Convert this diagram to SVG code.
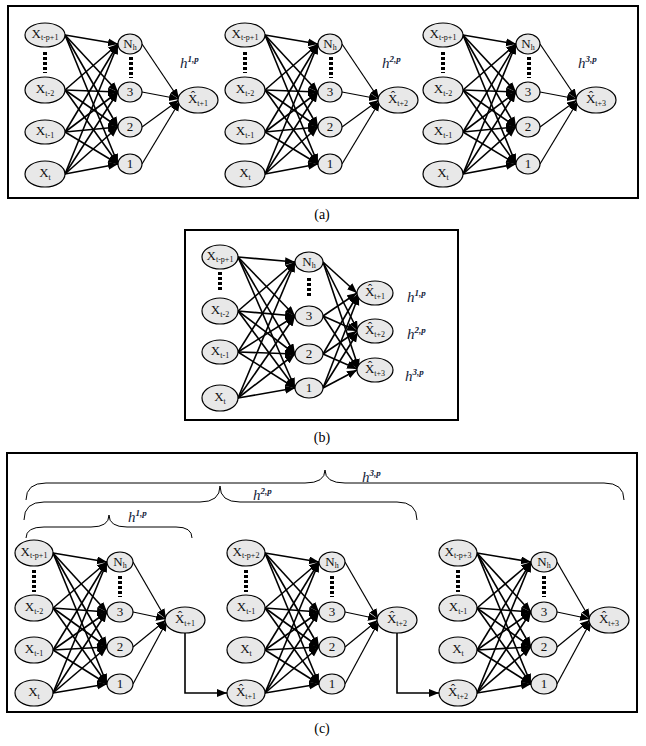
<svg xmlns="http://www.w3.org/2000/svg" xmlns:xlink="http://www.w3.org/1999/xlink" width="646" height="746" viewBox="0 0 646 746">
<style>
.bx{fill:none;stroke:#000;stroke-width:2}
.n{fill:#e8e8e8;stroke:#000;stroke-width:1.2}
.c line,.c path{stroke:#000;stroke-width:1.6;fill:none;marker-end:url(#ar)}
.h line{stroke:#000;stroke-width:1.2;marker-end:url(#ar)}
.t{font-family:"Liberation Serif",serif;font-size:13px;text-anchor:middle;fill:#111}
.s{font-size:8px}
.d{stroke:#000;stroke-width:4;stroke-dasharray:3,2}
.hl{font-family:"Liberation Serif",serif;font-size:15px;font-style:italic;fill:#14233a}
.hs{font-size:9px;font-weight:bold}
.br{fill:none;stroke:#000;stroke-width:1}
.cap{font-family:"Liberation Serif",serif;font-size:14px;text-anchor:middle}
</style>
<defs>
<marker id="ar" markerUnits="userSpaceOnUse" markerWidth="11" markerHeight="9" refX="10" refY="4" orient="auto"><path d="M0,0 L10,4 L0,8 z" fill="#000"/></marker>
<g id="netA">
<g class="c">
<line x1="65" y1="35" x2="118" y2="44"/><line x1="65" y1="35" x2="118" y2="92"/><line x1="65" y1="35" x2="118" y2="127"/><line x1="65" y1="35" x2="118" y2="164"/>
<line x1="65" y1="90" x2="118" y2="44"/><line x1="65" y1="90" x2="118" y2="92"/><line x1="65" y1="90" x2="118" y2="127"/><line x1="65" y1="90" x2="118" y2="164"/>
<line x1="65" y1="132" x2="118" y2="44"/><line x1="65" y1="132" x2="118" y2="92"/><line x1="65" y1="132" x2="118" y2="127"/><line x1="65" y1="132" x2="118" y2="164"/>
<line x1="65" y1="174" x2="118" y2="44"/><line x1="65" y1="174" x2="118" y2="92"/><line x1="65" y1="174" x2="118" y2="127"/><line x1="65" y1="174" x2="118" y2="164"/>
</g>
<g class="h">
<line x1="142" y1="44" x2="179" y2="99"/><line x1="142" y1="92" x2="179" y2="99"/><line x1="142" y1="127" x2="179" y2="100"/><line x1="142" y1="164" x2="180" y2="101"/>
</g>
<line class="d" x1="45" y1="52" x2="45" y2="73"/><line class="d" x1="131" y1="57" x2="131" y2="78"/>
<ellipse class="n" cx="45" cy="35" rx="20" ry="12"/><ellipse class="n" cx="45" cy="90" rx="20" ry="13"/><ellipse class="n" cx="45" cy="132" rx="20" ry="12"/><ellipse class="n" cx="45" cy="174" rx="20" ry="13"/>
<ellipse class="n" cx="130" cy="44" rx="12" ry="10"/><ellipse class="n" cx="130" cy="92" rx="12" ry="10"/><ellipse class="n" cx="130" cy="127" rx="12" ry="10"/><ellipse class="n" cx="130" cy="164" rx="12" ry="10"/>
<ellipse class="n" cx="198" cy="100" rx="20" ry="13"/>
<text class="t" x="45" y="38">X<tspan class="s" dy="2">t-p+1</tspan></text>
<text class="t" x="45" y="93">X<tspan class="s" dy="3">t-2</tspan></text>
<text class="t" x="45" y="135">X<tspan class="s" dy="3">t-1</tspan></text>
<text class="t" x="45" y="177">X<tspan class="s" dy="3">t</tspan></text>
<text class="t" x="130" y="48">N<tspan class="s" dy="2">h</tspan></text>
<text class="t" x="130" y="96">3</text><text class="t" x="130" y="131">2</text><text class="t" x="130" y="168">1</text>
</g>
<g id="netC">
<g class="c">
<line x1="53" y1="553" x2="107" y2="562"/><line x1="53" y1="553" x2="107" y2="612"/><line x1="53" y1="553" x2="107" y2="647"/><line x1="53" y1="553" x2="107" y2="684"/>
<line x1="53" y1="608" x2="107" y2="562"/><line x1="53" y1="608" x2="107" y2="612"/><line x1="53" y1="608" x2="107" y2="647"/><line x1="53" y1="608" x2="107" y2="684"/>
<line x1="53" y1="650" x2="107" y2="562"/><line x1="53" y1="650" x2="107" y2="612"/><line x1="53" y1="650" x2="107" y2="647"/><line x1="53" y1="650" x2="107" y2="684"/>
<line x1="53" y1="693" x2="107" y2="562"/><line x1="53" y1="693" x2="107" y2="612"/><line x1="53" y1="693" x2="107" y2="647"/><line x1="53" y1="693" x2="107" y2="684"/>
</g>
<g class="h">
<line x1="133" y1="562" x2="166" y2="619"/><line x1="133" y1="612" x2="166" y2="619"/><line x1="133" y1="647" x2="166" y2="620"/><line x1="133" y1="684" x2="167" y2="621"/>
</g>
<line class="d" x1="34" y1="570" x2="34" y2="592"/><line class="d" x1="120" y1="576" x2="120" y2="597"/>
<ellipse class="n" cx="34" cy="553" rx="19" ry="13"/><ellipse class="n" cx="34" cy="608" rx="19" ry="13"/><ellipse class="n" cx="34" cy="650" rx="19" ry="13"/><ellipse class="n" cx="34" cy="693" rx="19" ry="13"/>
<ellipse class="n" cx="120" cy="562" rx="13" ry="10"/><ellipse class="n" cx="120" cy="612" rx="13" ry="10"/><ellipse class="n" cx="120" cy="647" rx="13" ry="10"/><ellipse class="n" cx="120" cy="684" rx="13" ry="10"/>
<ellipse class="n" cx="185" cy="620" rx="20" ry="13"/>
<text class="t" x="120" y="566">N<tspan class="s" dy="2">h</tspan></text>
<text class="t" x="120" y="616">3</text><text class="t" x="120" y="651">2</text><text class="t" x="120" y="688">1</text>
</g>
</defs>

<rect class="bx" x="8" y="6" width="630" height="192"/>
<g id="a1"><use xlink:href="#netA"/><text class="t" x="198" y="103">X̂<tspan class="s" dy="3">t+1</tspan></text></g>
<g id="a2"><use xlink:href="#netA" x="200"/><text class="t" x="398" y="103">X̂<tspan class="s" dy="3">t+2</tspan></text></g>
<g id="a3"><use xlink:href="#netA" x="398"/><text class="t" x="596" y="103">X̂<tspan class="s" dy="3">t+3</tspan></text></g>
<text class="hl" x="180" y="68">h<tspan class="hs" dy="-6">1,p</tspan></text>
<text class="hl" x="382" y="68">h<tspan class="hs" dy="-6">2,p</tspan></text>
<text class="hl" x="578" y="68">h<tspan class="hs" dy="-6">3,p</tspan></text>
<text class="cap" x="322" y="219">(a)</text>

<rect class="bx" x="185" y="230" width="273" height="190"/>
<g id="b">
<g class="c">
<line x1="238" y1="257" x2="295" y2="262"/><line x1="238" y1="257" x2="295" y2="316"/><line x1="238" y1="257" x2="295" y2="354"/><line x1="238" y1="257" x2="295" y2="388"/>
<line x1="238" y1="311" x2="295" y2="262"/><line x1="238" y1="311" x2="295" y2="316"/><line x1="238" y1="311" x2="295" y2="354"/><line x1="238" y1="311" x2="295" y2="388"/>
<line x1="238" y1="352" x2="295" y2="262"/><line x1="238" y1="352" x2="295" y2="316"/><line x1="238" y1="352" x2="295" y2="354"/><line x1="238" y1="352" x2="295" y2="388"/>
<line x1="238" y1="398" x2="295" y2="262"/><line x1="238" y1="398" x2="295" y2="316"/><line x1="238" y1="398" x2="295" y2="354"/><line x1="238" y1="398" x2="295" y2="388"/>
<line x1="323" y1="262" x2="357" y2="293"/><line x1="323" y1="262" x2="358" y2="331"/><line x1="323" y1="262" x2="359" y2="369"/>
<line x1="323" y1="316" x2="357" y2="293"/><line x1="323" y1="316" x2="357" y2="331"/><line x1="323" y1="316" x2="358" y2="369"/>
<line x1="323" y1="354" x2="358" y2="294"/><line x1="323" y1="354" x2="357" y2="331"/><line x1="323" y1="354" x2="357" y2="369"/>
<line x1="323" y1="388" x2="359" y2="295"/><line x1="323" y1="388" x2="358" y2="332"/><line x1="323" y1="388" x2="357" y2="370"/>
</g>
<line class="d" x1="220" y1="272" x2="220" y2="292"/><line class="d" x1="309" y1="278" x2="309" y2="298"/>
<ellipse class="n" cx="220" cy="257" rx="18" ry="12"/><ellipse class="n" cx="220" cy="311" rx="18" ry="13"/><ellipse class="n" cx="220" cy="352" rx="18" ry="12"/><ellipse class="n" cx="220" cy="398" rx="18" ry="13"/>
<ellipse class="n" cx="309" cy="262" rx="14" ry="10"/><ellipse class="n" cx="309" cy="316" rx="14" ry="10"/><ellipse class="n" cx="309" cy="354" rx="14" ry="10"/><ellipse class="n" cx="309" cy="388" rx="14" ry="10"/>
<ellipse class="n" cx="375" cy="293" rx="18" ry="12"/><ellipse class="n" cx="375" cy="331" rx="18" ry="12"/><ellipse class="n" cx="375" cy="370" rx="18" ry="12"/>
<text class="t" x="220" y="260">X<tspan class="s" dy="2">t-p+1</tspan></text>
<text class="t" x="220" y="314">X<tspan class="s" dy="3">t-2</tspan></text>
<text class="t" x="220" y="355">X<tspan class="s" dy="3">t-1</tspan></text>
<text class="t" x="220" y="401">X<tspan class="s" dy="3">t</tspan></text>
<text class="t" x="309" y="266">N<tspan class="s" dy="2">h</tspan></text>
<text class="t" x="309" y="320">3</text><text class="t" x="309" y="358">2</text><text class="t" x="309" y="392">1</text>
<text class="t" x="375" y="296">X̂<tspan class="s" dy="3">t+1</tspan></text>
<text class="t" x="375" y="334">X̂<tspan class="s" dy="3">t+2</tspan></text>
<text class="t" x="375" y="373">X̂<tspan class="s" dy="3">t+3</tspan></text>
</g>
<text class="hl" x="407" y="302">h<tspan class="hs" dy="-6">1,p</tspan></text>
<text class="hl" x="407" y="339">h<tspan class="hs" dy="-6">2,p</tspan></text>
<text class="hl" x="405" y="381">h<tspan class="hs" dy="-6">3,p</tspan></text>
<text class="cap" x="322" y="442">(b)</text>

<rect class="bx" x="7" y="453" width="630" height="259"/>
<path class="br" d="M26,500 Q26,483 46,483 L305,483 Q325,483 325,470 Q325,483 345,483 L604,483 Q624,483 624,500"/>
<path class="br" d="M24,520 Q24,502 44,502 L200,502 Q220,502 220,486 Q220,502 240,502 L397,502 Q417,502 417,520"/>
<path class="br" d="M26,538 Q26,527 44,527 L91,527 Q109,527 109,515 Q109,527 127,527 L176,527 Q192,527 192,538"/>
<text class="hl" x="362" y="482">h<tspan class="hs" dy="-6">3,p</tspan></text>
<text class="hl" x="253" y="500">h<tspan class="hs" dy="-6">2,p</tspan></text>
<text class="hl" x="128" y="522">h<tspan class="hs" dy="-6">1,p</tspan></text>
<g class="c" id="links"><path d="M185,633 L185,693 L227,693"/><path d="M397,633 L397,693 L439,693"/></g>
<g id="c1"><use xlink:href="#netC"/>
<text class="t" x="34" y="556">X<tspan class="s" dy="2">t-p+1</tspan></text>
<text class="t" x="34" y="611">X<tspan class="s" dy="3">t-2</tspan></text>
<text class="t" x="34" y="653">X<tspan class="s" dy="3">t-1</tspan></text>
<text class="t" x="34" y="696">X<tspan class="s" dy="3">t</tspan></text>
<text class="t" x="185" y="623">X̂<tspan class="s" dy="3">t+1</tspan></text></g>
<g id="c2"><use xlink:href="#netC" x="212"/>
<text class="t" x="246" y="556">X<tspan class="s" dy="2">t-p+2</tspan></text>
<text class="t" x="246" y="611">X<tspan class="s" dy="3">t-1</tspan></text>
<text class="t" x="246" y="653">X<tspan class="s" dy="3">t</tspan></text>
<text class="t" x="246" y="696">X̂<tspan class="s" dy="3">t+1</tspan></text>
<text class="t" x="397" y="623">X̂<tspan class="s" dy="3">t+2</tspan></text></g>
<g id="c3"><use xlink:href="#netC" x="424"/>
<text class="t" x="458" y="556">X<tspan class="s" dy="2">t-p+3</tspan></text>
<text class="t" x="458" y="611">X<tspan class="s" dy="3">t-1</tspan></text>
<text class="t" x="458" y="653">X<tspan class="s" dy="3">t</tspan></text>
<text class="t" x="458" y="696">X̂<tspan class="s" dy="3">t+2</tspan></text>
<text class="t" x="609" y="623">X̂<tspan class="s" dy="3">t+3</tspan></text></g>
<text class="cap" x="322" y="733">(c)</text>
</svg>
